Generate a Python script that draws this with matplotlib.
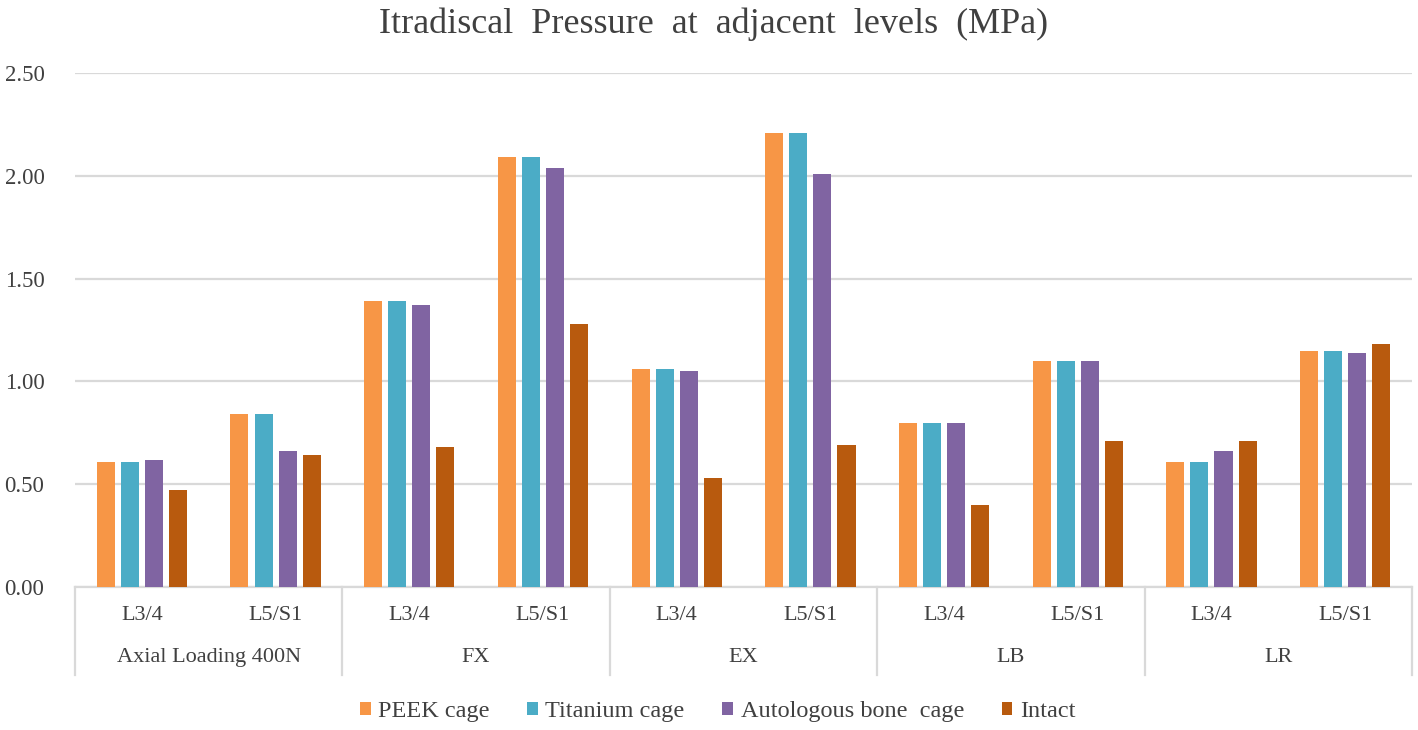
import numpy as np
import matplotlib
matplotlib.use("Agg")
import matplotlib.pyplot as plt
import matplotlib.transforms as mtransforms

plt.rcParams['font.family'] = ['Liberation Serif', 'DejaVu Serif']

# data
groups = ['Axial Loading 400N', 'FX', 'EX', 'LB', 'LR']
levels = ['L3/4', 'L5/S1']
series = ['PEEK cage', 'Titanium cage', 'Autologous bone  cage', 'Intact']
peek = [0.61, 0.84, 1.39, 2.09, 1.06, 2.21, 0.80, 1.10, 0.61, 1.15]
titanium = [0.61, 0.84, 1.39, 2.09, 1.06, 2.21, 0.80, 1.10, 0.61, 1.15]
autologous = [0.62, 0.66, 1.37, 2.04, 1.05, 2.01, 0.80, 1.10, 0.66, 1.14]
intact = [0.47, 0.64, 0.68, 1.28, 0.53, 0.69, 0.40, 0.71, 0.71, 1.18]
colors = ['#F79646', '#4BACC6', '#8064A2', '#B85A0E']

fig = plt.figure(figsize=(14.18, 7.3), dpi=100)
ax = fig.add_axes([0.0529, 0.1959, 0.9429, 0.7041])

x = np.arange(len(groups) * len(levels))
pitch = 0.18
width = 0.135
for i, (name, vals, c) in enumerate(zip(series, [peek, titanium, autologous, intact], colors)):
    ax.bar(x + (i - 1.5) * pitch, vals, width, color=c, label=name, zorder=3)

ax.set_xlim(-0.5, len(x) - 0.5)
ax.set_ylim(0, 2.5)
ax.set_yticks(np.arange(0, 2.51, 0.5))
ax.set_yticklabels([f'{v:.2f}' for v in np.arange(0, 2.51, 0.5)], fontsize=16.5, color='#404040')
ax.tick_params(axis='y', length=0, pad=22)
ax.grid(axis='y', color='#D9D9D9', linewidth=1.6, zorder=0)
for s in ['top', 'right', 'left']:
    ax.spines[s].set_visible(False)
ax.spines['bottom'].set_color('#D9D9D9')
ax.spines['bottom'].set_linewidth(1.6)

# level labels
ax.set_xticks(x)
ax.set_xticklabels(levels * len(groups), fontsize=16, color='#404040')
ax.tick_params(axis='x', length=0, pad=14)

# group labels and separators
trans = mtransforms.blended_transform_factory(ax.transData, ax.transAxes)
for g, name in enumerate(groups):
    ax.text(2 * g + 0.5, -0.137, name, transform=trans, ha='center', va='center',
            fontsize=16, color='#404040')
for b in np.arange(-0.5, len(x), 2):
    ax.plot([b, b], [0, -0.171], transform=trans, color='#D9D9D9', lw=1.6, clip_on=False)

fig.text(0.503, 0.967, 'Itradiscal  Pressure  at  adjacent  levels  (MPa)', ha='center', va='center',
         fontsize=26, color='#404040')

fig.legend(loc='center', bbox_to_anchor=(0.506, 0.025), ncol=4, frameon=False,
           fontsize=17.5, handlelength=0.45, handleheight=0.45, handletextpad=0.3,
           columnspacing=1.55, labelcolor='#404040')

fig.savefig('out.png', dpi=100)
